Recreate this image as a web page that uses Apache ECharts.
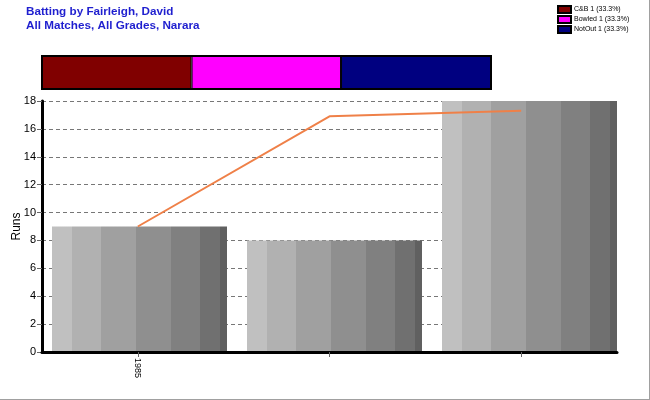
<!DOCTYPE html>
<html>
<head>
<meta charset="utf-8">
<script src="https://cdn.jsdelivr.net/npm/echarts@6/dist/echarts.min.js"></script>
<style>html,body{margin:0;padding:0;background:#fff;}#c{width:650px;height:400px;}</style>
</head>
<body>
<div id="c"></div>
<script>
// ---- data ----
var categories = ['1985', '', ' '];
var runs = [9, 8, 18];
var trend = [9, 16.9, 17.3];
var dismissalNames = ['C&B 1 (33.3%)', 'Bowled 1 (33.3%)', 'NotOut 1 (33.3%)'];
var dismissalPct = [33.3, 33.3, 33.4];
var dismissalColors = ['#800000', '#ff00ff', '#000080'];
var yTicks = [0, 2, 4, 6, 8, 10, 12, 14, 16, 18];

var chart = echarts.init(document.getElementById('c'), null, {renderer: 'canvas'});
var FONT = 'Liberation Sans, Arial, sans-serif';

var stripeColors = ['#c0c0c0', '#b1b1b1', '#a0a0a0', '#8f8f8f', '#808080', '#707070', '#606060'];
var stripeEdges = [0, 0.114, 0.28, 0.48, 0.68, 0.846, 0.96, 1];
var stops = [];
for (var i = 0; i < stripeColors.length; i++) {
  stops.push({offset: stripeEdges[i], color: stripeColors[i]});
  stops.push({offset: stripeEdges[i + 1], color: stripeColors[i]});
}
var stripeGradient = new echarts.graphic.LinearGradient(0, 0, 1, 0, stops);

var series = [
  {
    type: 'bar', xAxisIndex: 0, yAxisIndex: 0, data: runs, barWidth: 175,
    itemStyle: {color: stripeGradient}, z: 2, silent: true
  },
  {
    type: 'line', xAxisIndex: 2, yAxisIndex: 2, data: trend, symbol: 'none',
    lineStyle: {color: '#ef8048', width: 2}, itemStyle: {color: '#ef8048'}, z: 5, silent: true
  }
];
for (var k = 0; k < dismissalNames.length; k++) {
  series.push({
    name: dismissalNames[k], type: 'bar', xAxisIndex: 1, yAxisIndex: 1, stack: 'd',
    data: [dismissalPct[k]], barWidth: 33,
    itemStyle: {color: dismissalColors[k], borderColor: '#000', borderWidth: 1}, silent: true
  });
}

chart.setOption({
  animation: false,
  backgroundColor: '#fff',
  title: {
    text: 'Batting by Fairleigh, David\nAll Matches, All Grades, Narara',
    left: 21, top: 0,
    textStyle: {color: '#1f1fcf', fontSize: 11.7, fontWeight: 'bold', fontFamily: FONT, lineHeight: 14}
  },
  legend: {
    data: dismissalNames, orient: 'vertical', left: 552, top: 0,
    itemWidth: 13, itemHeight: 7, itemGap: 1, icon: 'rect',
    textStyle: {fontSize: 7, color: '#000', fontFamily: FONT, padding: [0, 0, 0, -2], lineHeight: 9},
    selectedMode: false
  },
  grid: [
    {left: 42, top: 101, width: 585, height: 251, outerBoundsMode: 'none', containLabel: false},
    {left: 42, top: 56, width: 449, height: 33, outerBoundsMode: 'none', containLabel: false},
    {left: 42, top: 101, width: 575, height: 251, outerBoundsMode: 'none', containLabel: false}
  ],
  xAxis: [
    {type: 'category', gridIndex: 0, data: categories, boundaryGap: true, show: false},
    {type: 'value', gridIndex: 1, min: 0, max: 100, show: false},
    {
      type: 'category', gridIndex: 2, data: categories, boundaryGap: true,
      axisLine: {show: true, lineStyle: {color: '#000', width: 3}},
      axisTick: {show: true, alignWithLabel: true, length: 5, lineStyle: {color: '#666'}},
      axisLabel: {rotate: -90, fontSize: 9, color: '#000', fontFamily: FONT, margin: 6, interval: 0},
      splitLine: {show: false}, z: 3
    }
  ],
  yAxis: [
    {type: 'value', gridIndex: 0, min: 0, max: 18, interval: 2, show: false},
    {type: 'category', gridIndex: 1, data: ['d'], show: false},
    {
      type: 'value', gridIndex: 2, min: 0, max: 18, interval: 2,
      name: 'Runs', nameLocation: 'middle', nameGap: 19, nameRotate: 90, nameMoveOverlap: false,
      nameTextStyle: {fontSize: 12, color: '#000', fontFamily: FONT},
      axisLine: {show: true, lineStyle: {color: '#000', width: 3}},
      axisTick: {show: true, length: 5, lineStyle: {color: '#666'}},
      axisLabel: {fontSize: 11, color: '#000', fontFamily: FONT, margin: 6,
        formatter: function (v) { return yTicks.indexOf(v) >= 0 ? String(v) : ''; }},
      splitLine: {show: true, lineStyle: {color: '#777', type: [4, 3], width: 1}}
    }
  ],
  series: series,
  graphic: [
    {type: 'line', shape: {x1: 649.5, y1: 0, x2: 649.5, y2: 400}, style: {stroke: '#a0a0a0', lineWidth: 1}, silent: true},
    {type: 'line', shape: {x1: 0, y1: 399.5, x2: 650, y2: 399.5}, style: {stroke: '#a0a0a0', lineWidth: 1}, silent: true},
    {type: 'rect', shape: {x: 42, y: 56, width: 449, height: 33}, style: {fill: 'none', stroke: '#000', lineWidth: 2}, silent: true, z: 10}
  ]
});
</script>
</body>
</html>
